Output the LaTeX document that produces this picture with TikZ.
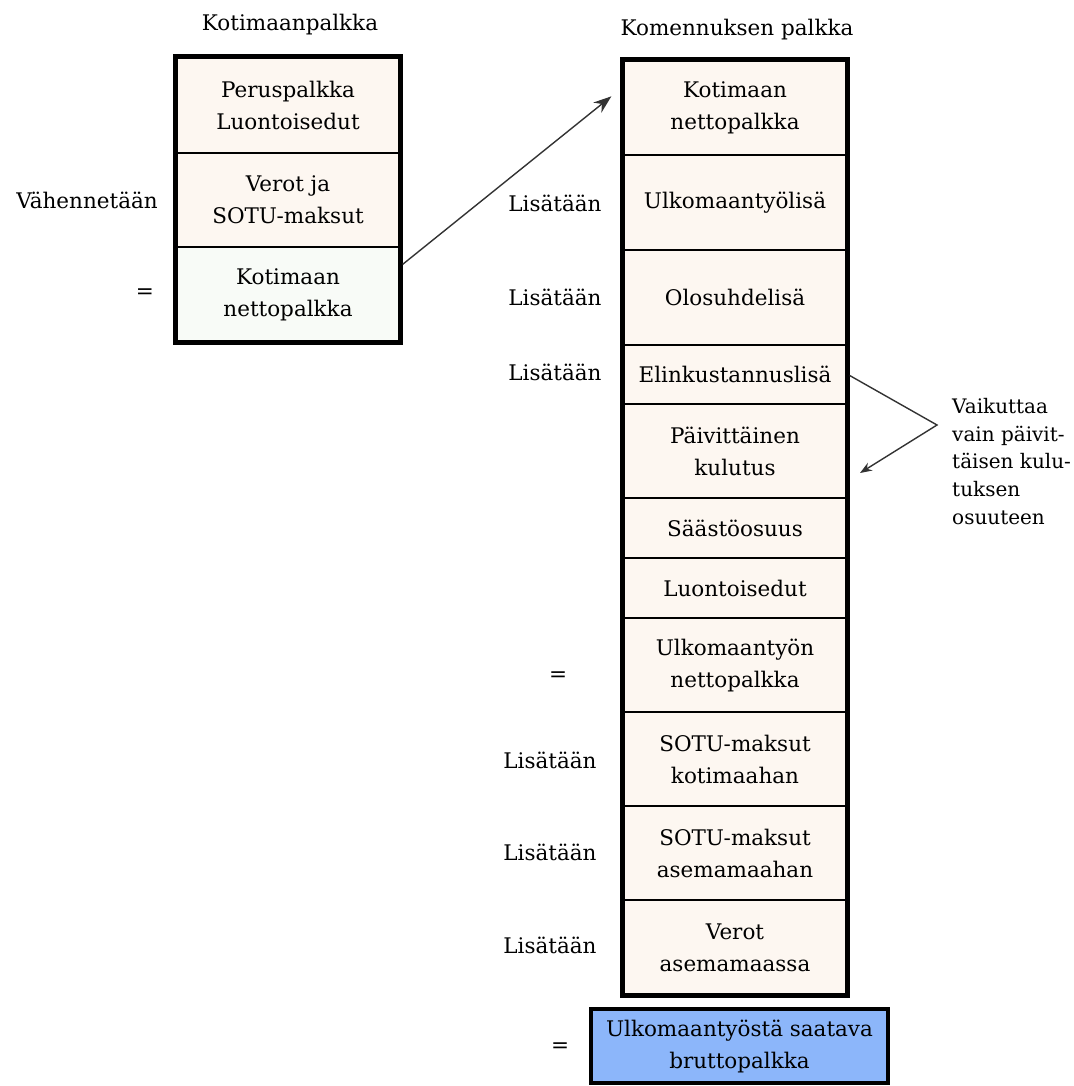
\documentclass[tikz,border=0pt]{standalone}
\usepackage{fontspec}
\setmainfont{DejaVu Serif}
\usetikzlibrary{arrows.meta,calc}
\definecolor{cream}{RGB}{253,247,241}
\definecolor{mint}{RGB}{248,251,247}
\definecolor{skyblue}{RGB}{140,182,250}
\begin{document}
\begin{tikzpicture}[x=1pt,y=-1pt,
  txt/.style={font=\fontsize{21.5}{32}\selectfont, inner sep=0pt, align=center},
  cell/.style={txt, draw=black, line width=1.3pt, fill=cream, minimum width=224pt},
  frame/.style={draw=black, line width=4.5pt},
  note/.style={font=\fontsize{20}{27.7}\selectfont, inner sep=0pt, align=left, anchor=north west},
  conn/.style={draw=black!80, line width=1.4pt}]
\useasboundingbox (0,0) rectangle (1073,1086);

% --- domestic salary column ---
\node[txt] (ttlL) at (290,25) {Kotimaanpalkka};
\node[cell, minimum height=96pt] (l1) at (288,105) {Peruspalkka\\Luontoisedut};
\node[cell, minimum height=94pt] (l2) at (288,200) {Verot ja\\SOTU-maksut};
\node[cell, minimum height=95pt, fill=mint] (l3) at (288,294.5) {Kotimaan\\nettopalkka};
\draw[frame] (l1.north west) rectangle (l3.south east);
\node[txt] (opL1) at (87,200) {Vähennetään};
\node[txt] (opL2) at (145,294) {=};

% --- assignment salary column ---
\node[txt] (ttlR) at (737,30) {Komennuksen palkka};
\node[cell, minimum height=95pt] (r1) at (735,107.5) {Kotimaan\\nettopalkka};
\node[cell, minimum height=95pt] (r2) at (735,202.5) {Ulkomaantyölisä};
\node[cell, minimum height=95pt] (r3) at (735,297.5) {Olosuhdelisä};
\node[cell, minimum height=59pt] (r4) at (735,374.5) {Elinkustannuslisä};
\node[cell, minimum height=94pt] (r5) at (735,451) {Päivittäinen\\kulutus};
\node[cell, minimum height=60pt] (r6) at (735,528) {Säästöosuus};
\node[cell, minimum height=60pt] (r7) at (735,588) {Luontoisedut};
\node[cell, minimum height=94pt] (r8) at (735,665) {Ulkomaantyön\\nettopalkka};
\node[cell, minimum height=94pt] (r9) at (735,759) {SOTU-maksut\\kotimaahan};
\node[cell, minimum height=94pt] (r10) at (735,853) {SOTU-maksut\\asemamaahan};
\node[cell, minimum height=95pt] (r11) at (735,947.5) {Verot\\asemamaassa};
\draw[frame] (r1.north west) rectangle (r11.south east);

\node[txt] (opR2) at (555,203) {Lisätään};
\node[txt] (opR3) at (555,297) {Lisätään};
\node[txt] (opR4) at (555,372) {Lisätään};
\node[txt] (opR8) at (558,677) {=};
\node[txt] (opR9) at (550,760) {Lisätään};
\node[txt] (opR10) at (550,852) {Lisätään};
\node[txt] (opR11) at (550,945) {Lisätään};

% --- gross result ---
\node[txt, draw=black, line width=4.5pt, fill=skyblue, minimum width=297pt, minimum height=74pt] (gross) at (739.5,1046) {Ulkomaantyöstä saatava\\bruttopalkka};
\node[txt] (opG) at (560,1048) {=};

% --- connectors ---
\coordinate (src) at ($(l3.north east)+(2,18)$);
\coordinate (dst) at ($(r1.north west)+(-11,37)$);
\draw[conn, -{Stealth[length=18pt,width=13pt]}] (src) -- (dst);

\coordinate (bend) at (937,425);
\coordinate (tip) at (860,473);
\draw[conn, -{Stealth[length=12pt,width=9pt]}] ($(r4.east)+(2,1)$) -- (bend) -- (tip);
\node[note] (remark) at (952,398) {Vaikuttaa\\vain päivit-\\täisen kulu-\\tuksen\\osuuteen};
\end{tikzpicture}
\end{document}
